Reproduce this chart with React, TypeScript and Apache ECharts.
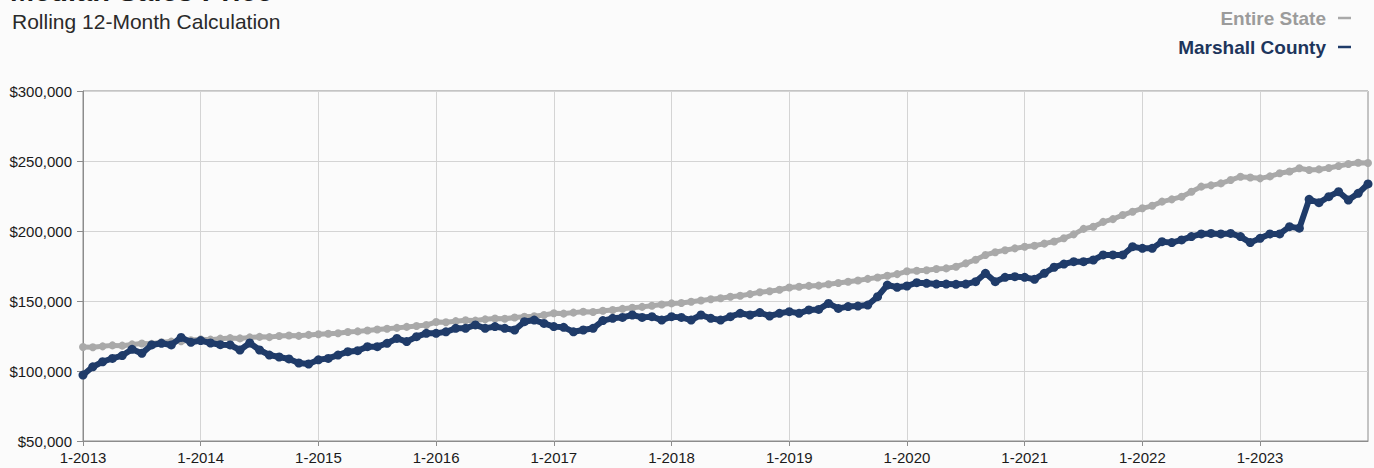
import React, { useEffect, useRef } from "react";
import * as echarts from "echarts";

const years = [2013, 2014, 2015, 2016, 2017, 2018, 2019, 2020, 2021, 2022, 2023];
const months = [1, 2, 3, 4, 5, 6, 7, 8, 9, 10, 11, 12];
const categories: string[] = [];
years.forEach((y) => months.forEach((m) => categories.push(`${m}-${y}`)));

const yTicks = { min: 50000, max: 300000, interval: 50000 };

// values in thousands of dollars
const entireState = [
  117.2, 117.0, 117.6, 118.3, 118.1, 119.0, 119.6, 119.4, 120.5, 121.0, 121.2, 122.0,
  122.6, 122.4, 123.1, 123.5, 123.3, 124.0, 124.4, 124.2, 125.0, 125.3, 125.1, 125.8,
  126.2, 126.6, 127.0, 127.8, 128.3, 128.9, 129.6, 130.2, 130.8, 131.5, 132.1, 132.8,
  135.0, 134.8, 135.6, 136.2, 136.0, 136.9, 137.5, 137.3, 138.2, 138.8, 139.1, 140.0,
  141.2, 141.0, 141.7, 142.3, 142.1, 143.0, 143.6, 144.4, 145.2, 145.8, 146.6, 147.5,
  148.3, 148.6, 149.5, 150.4, 151.2, 152.0, 153.0, 153.8, 154.9, 156.2, 157.0, 158.0,
  159.6, 160.2, 160.8, 161.0, 162.0, 162.8, 163.7, 164.6, 165.8, 166.8, 168.0, 169.2,
  171.2, 171.6, 172.0, 172.8, 173.3, 174.5, 176.9, 179.5, 182.9, 184.8, 186.3, 187.6,
  188.8, 189.5, 191.0, 192.5, 194.8, 197.6, 201.5, 203.0, 206.5, 208.5, 211.4, 213.8,
  216.2, 218.0, 221.0, 222.6, 224.5, 228.0, 231.7, 232.6, 234.0, 236.4, 238.8, 238.2,
  237.6, 239.0, 241.2, 242.5, 244.8, 243.6, 244.0, 245.0, 246.4, 247.8, 248.8, 248.6,
];

const marshallCounty = [
  97.1, 103.0, 106.6, 109.0, 111.0, 115.5, 112.6, 118.6, 119.8, 118.6, 124.0, 120.5,
  121.7, 120.0, 118.8, 118.6, 115.0, 120.0, 115.0, 111.4, 110.0, 108.6, 105.7, 105.0,
  108.0, 109.0, 111.4, 113.8, 114.5, 117.4, 117.4, 119.8, 123.3, 121.0, 124.5, 126.9,
  126.9, 128.0, 130.5, 130.5, 132.9, 130.5, 131.7, 130.5, 129.3, 135.2, 136.4, 134.0,
  131.7, 131.2, 128.0, 129.3, 130.5, 136.0, 137.6, 138.3, 140.0, 138.3, 138.8, 136.4,
  138.8, 138.3, 136.4, 140.0, 137.6, 136.4, 138.8, 141.2, 140.0, 141.7, 139.3, 141.2,
  142.4, 141.2, 143.6, 144.0, 148.3, 144.7, 146.0, 146.4, 147.1, 153.1, 161.4, 159.8,
  160.7, 163.1, 162.6, 162.1, 162.1, 161.9, 162.1, 163.8, 169.8, 163.8, 166.9, 167.4,
  166.9, 165.5, 169.8, 174.1, 176.4, 178.1, 178.1, 179.3, 182.9, 182.9, 182.9, 188.8,
  187.6, 187.6, 192.4, 191.7, 193.6, 196.0, 197.9, 198.3, 197.9, 198.3, 196.0, 191.7,
  194.8, 197.9, 197.9, 203.1, 202.0, 222.6, 220.2, 224.5, 228.1, 222.1, 226.9, 233.6,
];

const GREY = "#a9a9a9";
const NAVY = "#1f3b69";
const FONT = "'Liberation Sans', Arial, Helvetica, sans-serif";

export default function App() {
  const ref = useRef<HTMLDivElement>(null);
  useEffect(() => {
    if (!ref.current) return;
    const chart = echarts.init(ref.current, undefined, { renderer: "svg" });
    chart.setOption({
      animation: false,
      backgroundColor: "#fbfbfb",
      textStyle: { fontFamily: FONT },
      graphic: [
        {
          type: "text",
          left: 10,
          top: -24,
          style: {
            text: "Median Sales Price",
            fontSize: 29,
            fontWeight: "bold",
            fill: "#1a1a1a",
            fontFamily: FONT,
          },
        },
        {
          type: "text",
          left: 12,
          top: 11,
          style: {
            text: "Rolling 12-Month Calculation",
            fontSize: 21,
            fill: "#2a2a2a",
            fontFamily: FONT,
          },
        },
      ],
      legend: {
        orient: "vertical",
        right: 18,
        top: 3,
        align: "right",
        itemWidth: 13,
        itemHeight: 2.5,
        itemGap: 9,
        icon: "rect",
        selectedMode: false,
        textStyle: { fontSize: 19, fontWeight: "bold", fontFamily: FONT, padding: [0, 7, 0, 0], lineHeight: 20 },
        data: [
          { name: "Entire State", textStyle: { color: "#9b9b9b" } },
          { name: "Marshall County", textStyle: { color: "#1d355c" } },
        ],
      },
      grid: {
        left: 83,
        right: 6,
        top: 91,
        bottom: 27,
        show: true,
        borderColor: "#8c8c8c",
        borderWidth: 1,
      },
      xAxis: {
        type: "category",
        data: categories,
        boundaryGap: false,
        axisLine: { lineStyle: { color: "#8c8c8c" } },
        axisTick: { interval: 11, length: 5, lineStyle: { color: "#8c8c8c" } },
        axisLabel: { interval: 11, fontSize: 15, color: "#1a1a1a", margin: 9, fontFamily: FONT },
        splitLine: { show: true, interval: 11, lineStyle: { color: "#d4d4d4" } },
      },
      yAxis: {
        type: "value",
        min: yTicks.min,
        max: yTicks.max,
        interval: yTicks.interval,
        axisLine: { show: true, lineStyle: { color: "#8c8c8c" } },
        axisTick: { show: true, length: 6, lineStyle: { color: "#8c8c8c" } },
        axisLabel: {
          fontSize: 15,
          color: "#1a1a1a",
          margin: 11,
          fontFamily: FONT,
          formatter: (v: number) => "$" + v.toLocaleString("en-US"),
        },
        splitLine: { lineStyle: { color: "#d4d4d4" } },
      },
      series: [
        {
          name: "Entire State",
          type: "line",
          data: entireState.map((v) => v * 1000),
          symbol: "circle",
          symbolSize: 8,
          showSymbol: true,
          showAllSymbol: true,
          color: GREY,
          lineStyle: { width: 5, color: GREY },
          itemStyle: { color: GREY },
          z: 2,
        },
        {
          name: "Marshall County",
          type: "line",
          data: marshallCounty.map((v) => v * 1000),
          symbol: "circle",
          symbolSize: 9,
          showSymbol: true,
          showAllSymbol: true,
          color: NAVY,
          lineStyle: { width: 6, color: NAVY },
          itemStyle: { color: NAVY },
          z: 3,
        },
      ],
    });
    return () => chart.dispose();
  }, []);
  return (
    <div
      ref={ref}
      style={{ position: "fixed", left: 0, top: 0, width: 1374, height: 468 }}
    />
  );
}
